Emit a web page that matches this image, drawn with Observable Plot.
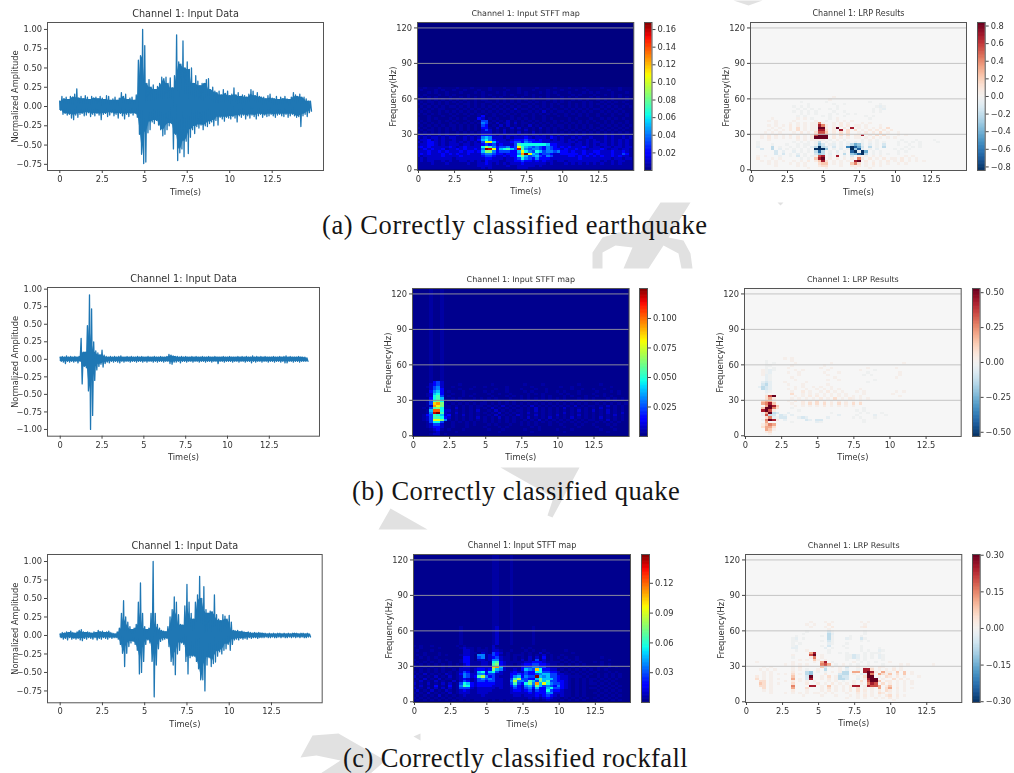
<!DOCTYPE html>
<html><head><meta charset="utf-8">
<script src="https://cdn.jsdelivr.net/npm/d3@7"></script>
<script src="https://cdn.jsdelivr.net/npm/@observablehq/plot@0.6"></script>
<style>
html,body{margin:0;padding:0;background:#fff}
#page{position:relative;width:1014px;height:773px;overflow:hidden}
.p{position:absolute;width:max-content}
.p svg{display:block;filter:blur(.3px);max-width:none !important}
.cap{position:absolute;left:0;font-family:"Liberation Serif",serif;font-size:26.5px;color:#151515;line-height:30px;white-space:pre}
</style></head><body><div id="page"></div>
<script>
const timeTicks=[0,2.5,5,7.5,10,12.5];
const freqTicks=[0,30,60,90,120];
const gridFreqs=[30,60,90,120];
const captions=["(a) Correctly classified earthquake","(b) Correctly classified quake","(c) Correctly classified rockfall"];
// waveform envelopes, one line per second (8 readings at 0.125 s)
const upA=[.07,.13,.10,.12,.09,.13,.12,.16,
.23,.11,.13,.10,.14,.12,.09,.13,
.11,.12,.10,.13,.11,.09,.14,.13,
.08,.10,.12,.08,.11,.18,.13,.16,
.09,.11,.12,.08,.15,.60,.66,1.0,
.79,.30,.35,.25,.28,.22,.26,.30,
.38,.36,.38,.30,.37,.24,.40,.93,
.58,.55,.85,.50,.58,.48,.50,.30,
.40,.33,.27,.30,.30,.35,.36,.22,
.25,.20,.18,.20,.15,.22,.17,.20,
.14,.16,.24,.15,.18,.13,.15,.14,
.12,.16,.22,.20,.14,.18,.13,.12,
.12,.10,.14,.16,.11,.10,.13,.09,
.12,.10,.13,.10,.09,.12,.18,.15,
.13,.16,.12,.12,.10,.07,.07];
const loA=[-.05,-.10,-.09,-.11,-.10,-.15,-.17,-.11,
-.14,-.10,-.09,-.12,-.11,-.08,-.13,-.10,
-.12,-.09,-.11,-.17,-.10,-.09,-.13,-.11,
-.08,-.12,-.10,-.15,-.09,-.12,-.16,-.10,
-.13,-.09,-.11,-.09,-.14,-.36,-.62,-.74,
-.72,-.34,-.30,-.20,-.22,-.18,-.24,-.30,
-.38,-.36,-.30,-.25,-.22,-.55,-.36,-.70,
-.60,-.55,-.65,-.45,-.61,-.40,-.30,-.35,
-.26,-.28,-.24,-.30,-.25,-.26,-.22,-.20,
-.25,-.18,-.24,-.14,-.16,-.19,-.14,-.15,
-.16,-.13,-.15,-.20,-.12,-.14,-.11,-.16,
-.12,-.15,-.11,-.13,-.16,-.12,-.10,-.14,
-.11,-.13,-.12,-.10,-.12,-.14,-.11,-.10,
-.12,-.13,-.10,-.14,-.12,-.10,-.12,-.14,
-.13,-.26,-.12,-.10,-.13,-.08,-.06];
const upB=[.03,.04,.03,.05,.03,.04,.03,.04,
.03,.04,.30,.10,.10,.48,.92,.72,
.25,.12,.09,.06,.13,.06,.04,.03,
.04,.03,.04,.03,.04,.05,.03,.03,
.04,.03,.04,.03,.03,.04,.03,.04,
.03,.03,.04,.03,.03,.04,.03,.03,
.04,.03,.03,.04,.07,.06,.05,.04,
.04,.03,.04,.03,.04,.03,.03,.04,
.03,.04,.03,.03,.04,.03,.03,.04,
.03,.03,.04,.03,.03,.03,.04,.03,
.03,.04,.03,.03,.03,.04,.03,.04,
.03,.04,.03,.03,.05,.03,.04,.03,
.04,.03,.04,.03,.03,.03,.04,.03,
.03,.04,.03,.04,.05,.03,.04,.03,
.03,.03,.04,.03,.03,.03,.02];
const loB=[-.03,-.04,-.06,-.03,-.04,-.03,-.04,-.03,
-.05,-.03,-.35,-.10,-.12,-.45,-1.0,-.80,
-.30,-.15,-.10,-.07,-.11,-.06,-.04,-.05,
-.03,-.04,-.03,-.04,-.05,-.03,-.04,-.03,
-.03,-.04,-.03,-.03,-.04,-.03,-.03,-.04,
-.03,-.04,-.03,-.03,-.04,-.03,-.04,-.03,
-.03,-.04,-.03,-.03,-.06,-.07,-.04,-.04,
-.03,-.05,-.03,-.03,-.04,-.03,-.03,-.04,
-.03,-.03,-.04,-.03,-.03,-.04,-.03,-.03,
-.04,-.03,-.03,-.06,-.03,-.03,-.04,-.03,
-.03,-.03,-.04,-.03,-.03,-.04,-.03,-.03,
-.04,-.03,-.03,-.05,-.03,-.04,-.03,-.03,
-.04,-.03,-.03,-.04,-.03,-.03,-.04,-.03,
-.03,-.04,-.03,-.05,-.05,-.03,-.03,-.04,
-.03,-.03,-.04,-.03,-.03,-.03,-.03];
const upC=[.02,.04,.03,.05,.04,.06,.04,.03,
.05,.07,.08,.05,.04,.05,.04,.03,
.05,.04,.07,.05,.06,.04,.05,.06,
.04,.03,.02,.05,.10,.30,.47,.25,
.18,.12,.08,.10,.15,.45,.71,.30,
.12,.08,.10,.30,1.0,.30,.15,.10,
.07,.06,.05,.12,.25,.35,.52,.45,
.28,.15,.14,.40,.69,.45,.30,.22,
.45,.55,.80,.50,.66,.35,.30,.33,
.32,.55,.28,.22,.20,.28,.26,.22,
.27,.18,.07,.06,.07,.05,.06,.05,
.04,.05,.04,.03,.04,.03,.04,.03,
.03,.03,.02,.03,.02,.03,.02,.03,
.03,.02,.03,.02,.03,.02,.03,.03,
.03,.02,.03,.03,.02,.03,.02];
const loC=[-.03,-.05,-.04,-.06,-.03,-.05,-.04,-.05,
-.04,-.06,-.07,-.04,-.05,-.03,-.04,-.05,
-.03,-.06,-.04,-.05,-.03,-.04,-.05,-.03,
-.04,-.03,-.03,-.05,-.12,-.24,-.42,-.24,
-.15,-.10,-.08,-.12,-.20,-.52,-.50,-.35,
-.12,-.06,-.10,-.35,-.83,-.40,-.18,-.08,
-.06,-.05,-.04,-.15,-.35,-.40,-.53,-.25,
-.20,-.10,-.12,-.35,-.52,-.30,-.28,-.28,
-.35,-.45,-.60,-.60,-.75,-.40,-.30,-.42,
-.38,-.36,-.28,-.22,-.25,-.20,-.18,-.12,
-.20,-.12,-.06,-.05,-.06,-.04,-.05,-.04,
-.05,-.03,-.04,-.03,-.03,-.04,-.03,-.03,
-.03,-.02,-.03,-.03,-.02,-.03,-.03,-.02,
-.03,-.02,-.03,-.03,-.02,-.03,-.02,-.03,
-.02,-.03,-.02,-.03,-.03,-.02,-.02];
// STFT rasters: one string per 2 Hz band, top to bottom, one character per 0.25 s. "."=floor, 0..g=rising magnitude
const stftA=[
"..0...0... .0...0.... 0...0...0. ...0....0. ..0...0... .0....0...",
".0...0.0.. 0..0...0.. 0....0..0. ..0...0... 0...0..0.. ...0..0...",
"...0.0..0. ..0...0.0. ..0.0...0. 0...0.0.0. ..0...0.0. 0...0...0.",
"0.0...0.0. 0...0...0. 0...0.0... 0.0...0..0 ...0.0...0 ..0.0.0...",
".0.0.0...0 ..0.0.0.0. .0.0...0.0 ..0.0.0... 0.0.0...0. 0...0.0.0.",
"0..0.0.0.0 .0.0..0.00 ..0.0.0.0. 0.0...0.0. 0..0.0.0.. 0.0.0...0.",
".0.00.0.0. 0.0.0.0..0 0.0.0.0.0. .0.0.0..0. 0.0...0.0. .0.0.0.0..",
"0.0.0.0.0. .0.00.0.0. .0.0.0.0.0 0.0..0.0.0 ..0.0.0.0. 0.0.0...0.",
".0.0.0.0.0 0.0.0.0.0. 0.0.0.0.0. .0.0.0.0.. 0.0.0.0.0. .0.0.0.0.0",
"0.0.0.00.. .0.0.0.0.0 .0.0.0.1.0 0.0.0.0.0. .0.0.0.0.0 0.0.0.0...",
".0.0..0.0. 0.0.0.0.0. 0.0.0.0.0. .0.0.1.0.0 0.0.0.0.0. .0.0.0.0..",
"0.0.0.0..0 .0.0.0.0.0 .0.0.0.0.0 0.0.0.0.0. .0.0.0.0.. 0.0.0.0.0.",
"...0...0.. 0...0..02. .0..0.0..0 ..0..0...0 .0...0.0.. 0...0...0.",
"0..0.0...0 .0.0...21. 0.0...0.0. 0.0..0.0.. ..0.0...0. .0.0.0.0..",
".0.0..0.0. 0...0.0.33 .0.0.1.0.0 .0.0.0..0. 0.0..0.0.0 ..0.0...0.",
"0.0.0.0..0 .0.0.0.043 0.1.01.1.0 0.0.0.0.0. .0.0.0.0.. 0.0.0.0.0.",
".0.0.0.0.0 0.0.0.0.32 .0.1.1.0.0 .1.0.0.0.0 0.0.0.0.0. .0.0.0.0.0",
"0.0.0.0.0. 0.0.0.0.22 0.1.0.1.1. 0.0.1.0.0. 0.0.0.0.0. 0.0.0.0.0.",
".0.00.0.0. 0.0.0.0.13 1.0.1.0.0. 1.0.0.0.0. .0.0.0.0.0 .0.0.0.0..",
"0.0.0.0.0. .0.0.0.011 1.0.1.0.1. 0.1.0.0.0. 0.0.0.0.0. 0.0.0.0.0.",
"0101001010 0100101022 2101011101 1011010101 0100101000 0010100100",
"1010110101 1001010145 4111010111 2101110210 1001010010 0010100101",
"0112010100 1001010256 4211101222 3221211010 1010100101 0010101010",
"1012210101 101010103a a521112332 4322211111 1011010101 1010101010",
"0112210101 1101101123 2312111376 6666665221 1110110101 0110101010",
"1212111112 1012111169 74233423a7 5434324321 2121112101 1011011011",
"0121211201 121211214g fa256753f7 4344324322 1211211011 1210110110",
"1112112121 1121221258 842333225a 6436534434 2212112112 2111211210",
"1212111212 1211211134 432212224c ga54233211 2222212121 2111211320",
"1011111211 1121111123 3211212268 5345324311 1122121212 1211212110",
"0101111111 0111111112 2111011236 4324222111 1111121111 1111011011",
"0101100101 0011010102 1110011223 2212121101 1011111111 1010101100",
"0000100010 0000100112 1010101112 1111110100 0101010101 0100101000",
"0000000000 0000000111 1000010011 1110100000 0000000000 0000000000",
"0000000000 0000000010 1000000011 1000000000 0000000000 0000000000"];
const stftB=[
...Array(39).fill(".....0..0. .......... .......... .......... .......... .........."),
".....0231. .......... .......... .......... .......... ..........",
".....1231. ...0...... ..0....... .0....0... ......0... ..0.......",
"....01341. .0.....0.. 0.....0... ...0...... .0..0..... .....0....",
".....1342. ...0..0... ...0..0... 0...0..0.. ....0..0.. 0..0......",
".....2452. 0...0..... 0.0...0... .0.0...0.. 0.0...0... .0...0.0..",
"....01562. .0..0..0.. .0..0..0.. ..0.0.0... .0.0..0... 0..0...0..",
"....01673. 0...0.0... ..0...0.0. 0.0...0.0. ..0.0...0. .0.0.0....",
".....2675. .0.0...0.0 .0.0...0.. 0.0.0.0.0. 0.0...0.0. 0...0.0.0.",
"....03786. 0.0.0.0... 0...0.0.0. .0.0.0.0.0 .0.0.0.0.. 0.0.0.0...",
"....03bc80 .0.0.0.0.0 0.0.0.0.0. 0.0.0.0.0. 0.0.0.0.0. .0.0.0.0.0",
"....01ca80 0.0.0.0.00 .0.0.1.0.0 .0.1.0.0.0 .0.0.1.0.0 0.0.1.0.0.",
"...0.37860 0.1.0.0.0. 0.1.0.0.0. 0.0.1.0.0. 0.1.0.0.0. 0.1.0.0.0.",
"....05dd61 1.0.0.0.1. .0.1.0.0.0 0.0.1.0.0. 0.0.0.1.0. 1.0.1.0.0.",
"....04fg71 0.1.0.0.0. 0.0.1.0.0. 0.1.0.0.0. 0.1.0.0.0. 0.0.1.0.1.",
"...0237651 2.0.1.0.0. .0.1.0.0.1 0.0.1.0.0. 1.0.0.1.0. 0.0.0.1.0.",
"...0137762 1.0.0.0.1. 0.0.1.0.0. 0.1.0.0.1. 0.0.1.0.0. 0.1.0.0.0.",
"...013aa84 0.0.0.0.0. 0.0.0.0.0. .0.0.1.0.0 .0.0.0.0.0 0.0.1.0.0.",
"....03663. .0.0.0.0.. 0.0.0.0.0. 0.0.0.0.0. 0.0.0.0.0. .0.0.0.0..",
"....01331. .0...0.0.. .0.0...0.. 0.0.0...0. .0...0.0.. 0...0.0...",
"....01221. .0...0.... 0...0.0... ...0.0.... ..0...0... .0...0....",
".....0120. 0...0..... .0...0.... .0...0.... 0...0..... ..0...0...",
"......01.. ..0....... ....0..... ...0...... ..0....... ....0.....",
".....011.0 .......... .......... .......... .......... .........."];
const stftC=[
...Array(30).fill(".......... .......... ..00...0.. .......... .......... .........."),
...Array(8).fill(".......... ...0...... ..01...0.. ...0...... .......... .........."),
"0.0..0.... ..0.0..... ..1....... .......... .......... ..........",
"..0....0.. ...0100.0. 0.10...... 0.0....... .......... ..........",
".0...0.... ....110.00 0.110..0.. .0.0..0... ..0....... ..........",
"...0...0.. ....1100.1 0.321.0... 0.0..1.0.. ....0..... ..........",
".0.0...0.0 ...0110.44 01320.0.00 0.0.0.1.0. .0........ ..........",
"..0.0.0... ....220.34 0123100.0. 0.1.1.2.0. 0.0..0.... ..0.......",
"0...0..0.0 ...0220.11 0144100.0. 1.1.3.1.0. .0.0.0.... ....0.....",
".0.0.0.0.. 0..0220001 1067210000 0112221000 0.0.0.0... 0.0.......",
"0.0.0.0.0. 0.0.120001 10782100.0 1223322100 .0.0.0.0.. ..0.0.....",
".0.0.0..0. 0..0110011 11bc510000 2334433100 0.0.0.0.0. .0..0.0...",
"..0.0.0.0. .0.1110122 1285410010 2543b62211 .0.0.0.0.0 .0.0......",
"0.0.0.0.0. 0.01320156 2563100121 1322663322 1.0.0.0.0. 0...0.0...",
".0.1.0.0.1 0.02431144 2331100223 2322345533 1100.0.0.0 .0.0.0.0..",
"1.0.0.1.0. 1.01431279 4231000245 2433g54533 2110000.0. .0.0.0.0..",
".0.1.0.1.0 0.01210134 3431100379 3322585553 2110.0.0.0 0.0.0.0...",
"0.1.0.1.0. .1.1320133 2331100494 4375385733 2210.0.0.0 .0.0.0....",
"1.0.1.0.1. 1.03652122 2221100373 2684c5a643 3210.0.0.0 0.0.0.0...",
"0.1.0.2.0. 2.04762122 2211100242 1453853432 4210.0.0.. .0.0.0.0..",
"1.0.1.1.1. 1.03331011 1110100132 1342522563 3210.0.0.0 0.0.0.0...",
".1.0.1.0.1 0.01210011 1100000122 1231322632 2100.0.0.. .0.0.0.0..",
"0.0.1.0.0. 1.01110011 1000000111 1121222441 1100.0.0.. 0.0.0.0...",
".0.0.0.1.0 .0.0100001 0000000011 0111212321 0100.0.0.. .0.0.0.0..",
"0.0.0.0.0. 0.00000000 0000000000 0010101210 0.0.0.0.0. 0.0.0.0...",
".0.0.0.0.0 .0.0.0.000 0.0.0.0.00 0.0.0.0100 .0.0.0.0.. .0.0.0.0.."];
// LRP rasters: "."=0, 1-9 positive, a-i negative
const lrpA=[
".......... .......... .......... .......... .......... ..........",
".......... .......... ...1...... .......... .......... ..........",
".......... .......... ..1....... .......... .......... ..........",
".......... ....a..... .a........ ...a...... .......... ..........",
".......... ......a... ...a..a... ......a... .......... ..........",
".......... ..a.a.a... ....a..... .....aba.. .......... ..........",
".......... ...a.a.a.a ..a.a..... ....a.ab.. .......... ..........",
".......... ..a.a.a.a. ...a..a... ....a.a... .......... ..........",
".......... ....a.a.a. ..a.a..a.a .......... .......... ..........",
".......... ...a.a.... a.a...a... ..a.a..... .......... ..........",
"......1... ...1.1.a.. ..a.1..... ...a...... .......... ..........",
".....1.1.. ..1.....1. .a..1.1.1. .......... .......... ..........",
".......1.. .1.1.1.116 1..1.2.1.. .1.1...... .......... ..........",
".....1.1.1 .2.1.1.118 62.1.2.2.1 1.1...1... .......... ..........",
"......1.1. .2.3.1.119 92.29.2.8. 1.1.1.2.3. .......... ..........",
".....1.1.1 .2.3.1.118 83.2.8.3.3 .1.2.2.2.2 .......... ..........",
"....1.1.1. ..1.2.1.37 74.2.3.3.. 1.2.2.3.1. .1........ ..........",
"...1.2.2.1 .2.1.1.279 99.2.3.3.2 28.2.3.3.. .1.1...... ..........",
"...1.2.1.1 .1.2.1.299 99.2.1.1.1 1.1.2.1.1. 1......... ..........",
".....1.... ...1.1.111 1.a.1.a... .a.1.a.... ..a...a... .a........",
"..a....... ..a.a.a.ad .a.a.a.a.a .a.a.a.a.. .a.a.a.a.. ..a.......",
"..a...a... a..a.aa.ae c.ab.a.bdf eb.b.a.c.. .a..a..a.. ..........",
"..b...d.a. .a.a.a.bdi dc.c.a.gih fc.d.a.d.. ...a.a.a.. ..........",
"...c..d.b. a.a.a.a.ii ie.a.b.aie hb.a.b.... a.a.a..... ..........",
".......c.b ..b.a.a.dh d.a.b.a.hi bif.a.a... .a.a...... ..........",
".......c.c .a.b.a..ce d.b.a.d.ef hid.a.a.a. .a........ ..........",
"..1.1...a. .a.c.a.a17 8.a.8.a.c. 2.1.1.1... ...1.1.... ..........",
"..2...1.1. ....a.a.48 9.1.2.1.2. 62.2.1.2.1 1.2.1.1... ..........",
"...1.1.1.1 ..1.1.2.24 83.1.1.1.8 9.2.1.1.2. 1.2.1.1.1. ..........",
".....1.1.. .1.1.1...3 44.1.1..46 3.1.2.1.1. .1.1...... ..........",
".......1.. ...1.1...2 33...1..21 2.1.1.1... .......... ..........",
".......... ......1... .1.......1 ...1...... .......... .........."];
const lrpB=[
".......... .1.1...... .......... .......... .......... ..........",
"......a... ...1...... .......... .......... .......... ..........",
"......a.a. ....1..... ....1..... .......... ....1..... ..........",
"......aa.. ...1...... ..1....... .......... .......... ..........",
"......a.a. ..1....... .1..1..... ....1..... ..1....... ..........",
".....1aba. ....1.1... ...1...... ..1...a... .......... ..........",
".....1ab.. ..1..1.... ..1...1... ....a..... ...1...... ..........",
".....1ba.. .....1.... ...1...... ...a.a.... ...1...... ..........",
"......ba.. ...1...... .....1.... .......... ..1....... ..........",
"......ba.. ....1..... ...1..1... ......a... .......... ..........",
".....bcb.. .1.....1.. .......... ....a..... .......... ..........",
".....cdb.. ..1...1... ...1...... .......... .......... ..........",
"....bdcb.. ....1.1..1 .1..1..... .......... .......... ..........",
".....dcb.. ..1.1..1.. 1.1.1.1... ..1....... .......... ..........",
"......ba.. ...1..2.1. .1.2.1.1.. .1.1...... ..1.1..... ..........",
"......a... ...3..1.1. 1.1.1.1.1. ...1...... .1........ ..........",
"......379. ....1.1.2. 2.1.1.1.1. 1.1....... ...1...... ..........",
"......352. ...1.1.1.1 .2.1.3.1.2 1.1.1..... .......... ..........",
".....4552. ..1.2.2.2. 3.2.1.2.1. 1.1....... .......... ..........",
".....5684. ...1..2.3. 3.3.2.3.2. 3.3....... .......... ..........",
"......5984 ....1.1.1. 1.2.1.1.1. 1......... .......... ..........",
".....49963 ...a...... .......... ...a...... .......... ..........",
".....8972. .....a.... .......... .a.a...... .......... ..........",
".....a59dc ..b....... ....a..... ..a.a...a. .......... ..........",
".....a7dc. cb.b...... ......b... .a....b..a .......... ..........",
"......36ba cc...bcb.. ...b...... a.a...a... .......... ..........",
".....a6982 .b.....cb. cc........ ...a...... .......... ..........",
"......5... ...a...... ba........ ...a...... .......... ..........",
".....2465. .......... .......... .......... .......... ..........",
".....3553. .......... .......... .......... .......... ..........",
"......541. .......... .......... .......... .......... ..........",
"......23.. .......... .......... .......... .......... ..........",
".......1.. .......... .......... .......... .......... .........."];
const lrpC=[
".......... .......... .......... .......... .......... ..........",
".......... ........1. ..1.1..... ..1.1..... .......... ..........",
".......... .......1.1 ...2...... ...1...... .......... ..........",
".......... ........1. ..1.2..... ..12...... .......... ..........",
".......... .......... ...1...... .......... .......... ..........",
".......... .......a.. ...ca..... ...a...... .......... ..........",
".......... ......a... ...db..... ...a...... .......... ..........",
".......... ....a..... .a.da....a ..a....... .......... ..........",
".......... ...ab.a... ...da...ba ..ca...... .......... ..........",
".......... ...aa..... .a.ca..... ..a.a..... .......... ..........",
".......... ...a.a.... ...ba...a. .......... .......... ..........",
".......... ...ab..... .a.c...a.. ..a....... .......... ..........",
".......... ...bb..... ..b.a...a. ..a....a.. .......... ..........",
".......... ....a..1.. ...a...... ..a.a..ba. .......... ..........",
".......... ........58 ...a..a.a. ...a.aaa.. .......... ..........",
".......... ...1....79 .1......aa cb.a.a.ba. .......... ..........",
".......... ...a....16 .1......aa cb.a.a.ba. .......... ..........",
".......... .....1.1.4 1.1.....a. .a.a....a. .......... ..........",
"...1...... ...1.....1 .58.a..... 1.a.a.a... 1......... ..........",
".......... .1.1.1.1.. .675.a.1.a .a..a...a. ...1.1.... ..1.......",
".....1.1.. ...1.2.... .4c.1.1.c. .1.1.1.21. .1.1...... ..........",
"....1.1.1. ...1.1.a.. 1.d...1.b. .a.883.1.1 .2.1...... ..........",
".....1.1.. ...2...de. a.a.1.1dd. 55.8982.51 1.4.4.1... ..........",
".....1.1.1 .1.3.1.de. ..2...cdd. 1.bb96.531 4.3.4.1... ..........",
"...2.1.1.. ...4...c9. .1.3.1dcc. .a.399.1.3 2.2.1...1. ..........",
"...3.1.1.1 ...5.1.c8. .1.2.1ddc. .b.1899.1. .3.2.1.... ..........",
"....33.1.. .1.2.1.1.1 ...1.1.a.. 1.3.7994.2 2.1.1.1... ..........",
"....43.1.1 ...3...2.. 2.1.2.1.1. 1.1.687.3. 2.1.1.1... ..........",
"....33.1.. ...6....88 .1.4.1.1.2 88.18775.2 4.1.1..... ..........",
".....3.1.. ...5...3.. .1.3.1.1.2 .3.1.2.5.3 5.2.1.1... ..........",
".....1.1.. ...2...1.. .1.2.1.1.2 .3.2.1.2.3 2.1.1..... ..........",
".......1.. .1.1.1.1.1 1.1.1...1. .2.1.1.32. 1.1....... ..........",
".......... ......1... .1...1...1 .1.2.1.1.2 3.2.1..... ..........",
".......... .......... ........1. .1.1..1.1. 2.1....... ..........",
".......... .......... .......... .......... .1........ .........."];
const wmPieces=[
{id:"a",pts:[[592,268],[592,252],[602,237],[618,232],[640,232],[660,202],[690,202],[668,237],[683,240],[690,253],[692,268],[681,268],[678,253],[663,245],[648,268],[623,268],[632,247],[615,245],[602,252],[602,268]]},
{id:"b",pts:[[777,202],[783,202],[780,205]]},
{id:"c",pts:[[500,467],[579,467],[552,517],[547,515],[553,497]]},
{id:"d",pts:[[390,508],[427,529],[378,529]]},
{id:"e",pts:[[300,757],[312,735],[338,733],[385,760],[370,773],[320,773],[340,760],[316,755]]},
{id:"f",pts:[[733,0],[762,0],[748,5]]},
{id:"g",pts:[[413,736],[420,733],[420,740]]}
];
const rows=[
 {wave:[47,22,276,148],wx:[-.724,15.52],wy:[-.83,1.09],up:upA,lo:loA,yt:[-.75,-.5,-.25,0,.25,.5,.75,1],
  s:[416.7,22,216.3,148],sv:.168,sc:[644.3,22,7.5,148],st:[.02,.04,.06,.08,.1,.12,.14,.16],sf:".2f",stft:stftA,
  l:[750,22,216,148],lv:.84,lc:[977.3,22,7.7,148],lt:[-.8,-.6,-.4,-.2,0,.2,.4,.6,.8],lf:".1f",lrp:lrpA,cap:captions[0],capY:210,capX:322,ls:.57},
 {wave:[47,287.3,272,148.7],wx:[-.76,15.5],wy:[-1.096,1.024],up:upB,lo:loB,yt:[-1,-.75,-.5,-.25,0,.25,.5,.75,1],
  s:[411.7,287.7,216.6,148],sv:.1254,sc:[638.7,287.7,8,148],st:[.025,.05,.075,.1],sf:".3f",stft:stftB,
  l:[744.3,287.7,216.7,148],lv:.53,lc:[971.7,287.7,7.6,148],lt:[-.5,-.25,0,.25,.5],lf:".2f",lrp:lrpB,cap:captions[1],capY:476,capX:352,ls:.47},
 {wave:[47,553.7,274.7,148.3],wx:[-.75,15.5],wy:[-.91,1.095],up:upC,lo:loC,yt:[-.75,-.5,-.25,0,.25,.5,.75,1],
  s:[413,554,217,148],sv:.149,sc:[640.7,554,8,148],st:[.03,.06,.09,.12],sf:".2f",stft:stftC,
  l:[744.7,554,216.3,148],lv:.303,lc:[972,554,7.7,148],lt:[-.3,-.15,0,.15,.3],lf:".2f",lrp:lrpC,cap:captions[2],capY:743,capX:343,ls:.4}
];
const jetStops=[0,.11,.125,.34,.375,.5,.64,.66,.89,.91,1];
const jetCols=["#000080","#0000ff","#0000ff","#00dbff","#0dffe9","#7dff7a","#f6ff01","#ffee00","#ff1200","#ee0000","#800000"];
const jet=d3.scaleLinear().domain(jetStops).range(jetCols).interpolate(d3.interpolateRgb).clamp(true);
const rdbu=t=>d3.interpolateRdBu(1-t);
const page=document.getElementById("page");
const font={fontFamily:"'DejaVu Sans'",fontSize:"8.3px",color:"#333",background:"transparent",overflow:"visible",maxWidth:"none"};
const M={l:47,r:6,t:22,b:33};
function place(svg,x,y){const d=document.createElement("div");d.className="p";d.style.left=x+"px";d.style.top=y+"px";d.appendChild(svg);page.appendChild(d);}
function base(fr,xd,yd,title,titleSize,ylabel,yOff,yticks,yfmt,extra){
  return Plot.plot({width:fr[2]+M.l+M.r,height:fr[3]+M.t+M.b,marginLeft:M.l,marginRight:M.r,marginTop:M.t,marginBottom:M.b,style:font,
    x:{domain:xd,axis:null},y:{domain:yd,axis:null},...extra.opts,
    marks:[...extra.marks,
      Plot.frame({stroke:"#555",strokeWidth:1}),
      Plot.axisX({ticks:timeTicks,tickFormat:d=>String(d),tickSize:3,tickPadding:2.5,stroke:"#444",fill:"#333",label:"Time(s)",labelAnchor:"center",labelArrow:"none",labelOffset:24,fontSize:8.3}),
      Plot.axisY({ticks:yticks,tickFormat:yfmt,tickSize:3,tickPadding:2.5,stroke:"#444",fill:"#333",label:ylabel,labelAnchor:"center",labelArrow:"none",labelOffset:yOff,fontSize:8.3}),
      Plot.text([title],{text:d=>d,frameAnchor:"top",dy:-12,fontSize:titleSize,fill:"#333"})
    ]});
}
function rasterCells(rowsIn,dec){
  const n=rowsIn.length;
  return rowsIn.flatMap((row,k)=>[...row.replace(/ /g,"")].map((c,i)=>({t1:i*.25-.125,t2:i*.25+.125,f1:(n-1-k)*2,f2:(n-1-k)*2+2,v:dec(c)}))).filter(d=>d.v!==0);
}
const decS=v=>c=>c==="."?.012*v:c==="0"?.03*v:parseInt(c,36)/16*v;
const lrpLevels=[0,.03,.08,.16,.26,.38,.5,.65,.82,1];
const decL=v=>c=>{if(c===".")return 0;const n=parseInt(c,36);return n<10?lrpLevels[n]*v:-lrpLevels[n-9]*v;};
function bar(fr,dom,ticks,fmt,interp){
  const steps=d3.range(256).map(i=>({a:dom[0]+(dom[1]-dom[0])*i/256,b:dom[0]+(dom[1]-dom[0])*(i+1)/256}));
  const svg=Plot.plot({width:fr[2]+34,height:fr[3]+M.t+M.b,marginLeft:0,marginRight:34,marginTop:M.t,marginBottom:M.b,style:font,
    x:{domain:[0,1],axis:null},y:{domain:dom,axis:null},color:{type:"linear",domain:dom,interpolate:interp},
    marks:[Plot.rect(steps,{x1:()=>0,x2:()=>1,y1:"a",y2:"b",fill:d=>(d.a+d.b)/2,inset:-.3,clip:true}),
      Plot.frame({stroke:"#555"}),
      Plot.axisY({anchor:"right",ticks,tickFormat:d3.format(fmt),tickSize:3,tickPadding:2.5,stroke:"#444",fill:"#333",label:null,fontSize:8.3})]});
  place(svg,fr[0],fr[1]-M.t);
}
// watermark behind everything
place(Plot.plot({width:1014,height:773,margin:0,style:font,x:{domain:[0,1014],axis:null},y:{domain:[0,773],range:[0,773],axis:null},
  marks:wmPieces.map(w=>Plot.line(w.pts,{x:d=>d[0],y:d=>d[1],fill:"#e1e1e1",stroke:"none"}))}),0,0);
for(const r of rows){
  const zig=r.up.flatMap((u,i)=>[{t:i*.125,y:u},{t:i*.125+.0625,y:r.lo[i]}]);
  const core=r.up.map((u,i)=>({t:i*.125,
    a:Math.min(u,r.up[i-1]??u,r.up[i+1]??u),
    b:Math.max(r.lo[i],r.lo[i-1]??r.lo[i],r.lo[i+1]??r.lo[i])}));
  place(base(r.wave,r.wx,r.wy,"Channel 1: Input Data",9.7,"Normalized Amplitude",35,r.yt,d3.format(".2f"),
    {opts:{},marks:[Plot.areaY(core,{x:"t",y1:"a",y2:"b",fill:"#1f77b4"}),Plot.line(zig,{x:"t",y:"y",stroke:"#1f77b4",strokeWidth:1.3})]}),r.wave[0]-M.l,r.wave[1]-M.t);
  const heat=[-.07,14.93],fd=[-.6,124.6],grid=(col)=>Plot.ruleY(gridFreqs,{stroke:col,strokeWidth:1});
  place(base(r.s,heat,fd,"Channel 1: Input STFT map",8,"Frequency(Hz)",27,freqTicks,d=>String(d),
    {opts:{color:{type:"linear",domain:[0,r.sv],interpolate:jet}},
     marks:[Plot.frame({fill:jet(0),stroke:"none"}),Plot.rect(rasterCells(r.stft,decS(r.sv)),{x1:"t1",x2:"t2",y1:"f1",y2:"f2",fill:"v",clip:true,shapeRendering:"crispEdges"}),grid("#8a8a9c")]}),r.s[0]-M.l,r.s[1]-M.t);
  bar(r.sc,[0,r.sv],r.st,r.sf,jet);
  place(base(r.l,heat,fd,"Channel 1: LRP Results",8,"Frequency(Hz)",27,freqTicks,d=>String(d),
    {opts:{color:{type:"linear",domain:[-r.lv,r.lv],interpolate:rdbu}},
     marks:[Plot.frame({fill:"#f6f6f6",stroke:"none"}),Plot.rect(rasterCells(r.lrp,decL(r.lv)),{x1:"t1",x2:"t2",y1:"f1",y2:"f2",fill:"v",clip:true,shapeRendering:"crispEdges"}),grid("#c4c4c4")]}),r.l[0]-M.l,r.l[1]-M.t);
  bar(r.lc,[-r.lv,r.lv],r.lt,r.lf,rdbu);
  const c=document.createElement("div");c.className="cap";c.style.top=r.capY+"px";c.style.left=r.capX+"px";c.style.letterSpacing=r.ls+"px";c.textContent=r.cap;page.appendChild(c);
}
</script></body></html>
